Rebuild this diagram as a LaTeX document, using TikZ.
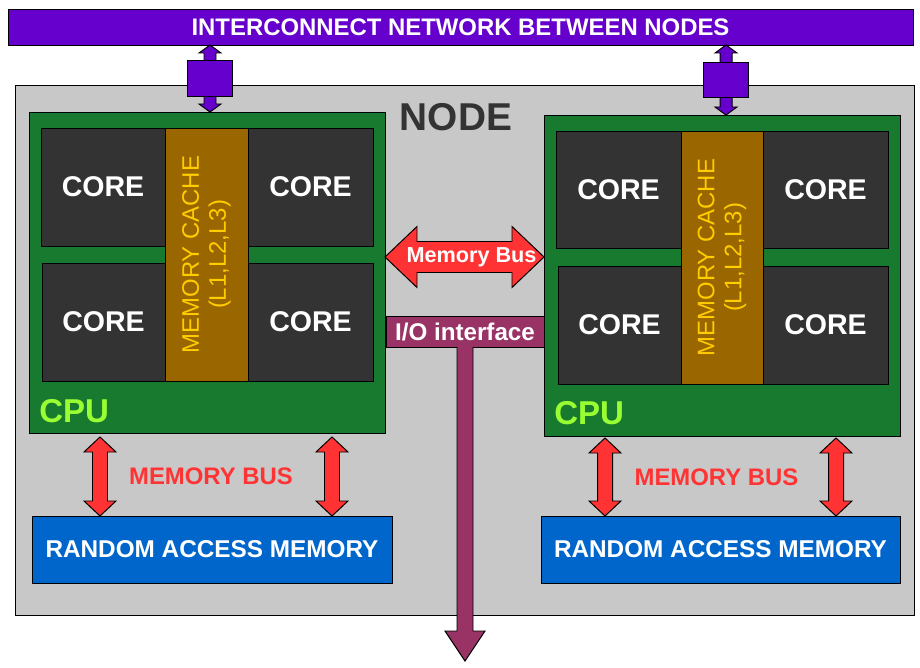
\documentclass[tikz,border=0pt]{standalone}
\usepackage{fontspec}
\setmainfont{Liberation Sans}
\usepackage{xcolor}
\usepackage{tikz}
\usetikzlibrary{positioning, fit, calc}
\definecolor{netpurple}{rgb}{0.4,0,0.8}
\definecolor{nodegray}{rgb}{0.784,0.784,0.784}
\definecolor{cpugreen}{rgb}{0.09,0.48,0.18}
\definecolor{coregray}{rgb}{0.2,0.2,0.2}
\definecolor{cachebrown}{rgb}{0.6,0.4,0}
\definecolor{cacheyellow}{rgb}{1,0.8,0}
\definecolor{cpulime}{rgb}{0.6,1,0.2}
\definecolor{busred}{rgb}{1,0.2,0.2}
\definecolor{ramblue}{rgb}{0,0.4,0.8}
\definecolor{iopurple}{rgb}{0.6,0.2,0.4}
\tikzstyle{box}=[%
      rectangle, draw=black, line width=0.7pt, inner sep=0pt, outer sep=0pt
]
\tikzstyle{netbar}=[box, fill=netpurple]
\tikzstyle{nettext}=[%
      text=white, inner sep=0pt, font=\fontsize{17}{20}\selectfont\bfseries
]
\tikzstyle{nodebox}=[box, fill=nodegray]
\tikzstyle{nodetitle}=[%
      text=coregray, inner sep=0pt, font=\fontsize{27.6}{32}\selectfont\bfseries
]
\tikzstyle{cpu}=[box, fill=cpugreen]
\tikzstyle{core}=[box, fill=coregray]
\tikzstyle{coretext}=[%
      text=white, inner sep=0pt, font=\fontsize{20.3}{24}\selectfont\bfseries
]
\tikzstyle{cache}=[box, fill=cachebrown]
\tikzstyle{cachetext}=[%
      rotate=90, align=center, text=cacheyellow, inner sep=0pt,
      font=\fontsize{17}{19.2}\selectfont
]
\tikzstyle{cpulabel}=[%
      anchor=base west, text=cpulime, inner sep=0pt, font=\fontsize{23.5}{28}\selectfont\bfseries
]
\tikzstyle{ram}=[box, fill=ramblue]
\tikzstyle{ramtext}=[%
      text=white, inner sep=0pt, font=\fontsize{17.3}{20}\selectfont\bfseries
]
\tikzstyle{port}=[draw=black, line width=0.7pt, fill=netpurple]
\tikzstyle{portbox}=[%
      box, fill=netpurple, minimum width=1.125cm, minimum height=0.875cm
]
\tikzstyle{bus}=[draw=black, line width=0.7pt, fill=busred]
\tikzstyle{buslabel}=[%
      text=white, inner sep=0pt, font=\fontsize{15.4}{18}\selectfont\bfseries
]
\tikzstyle{ramlabel}=[%
      text=busred, inner sep=0pt, font=\fontsize{17}{20}\selectfont\bfseries
]
\tikzstyle{io}=[box, fill=iopurple]
\tikzstyle{iotext}=[%
      text=white, inner sep=0pt, font=\fontsize{17.2}{20}\selectfont\bfseries
]
\tikzstyle{iostem}=[draw=black, line width=0.7pt, fill=iopurple]
% vertical double arrow: style, top tip, bottom tip, shaft half width, head half width, head length
\newcommand{\vbus}[6]{%
  \path[#1] (#2) -- ++(#5,#6) -- ++({#4-#5},0) -- ($(#3)+(#4,-#6)$) -- ++({#5-#4},0) -- (#3)
    -- ++(-#5,-#6) -- ++({#5-#4},0) -- ($(#2)+(-#4,#6)$) -- ++({#4-#5},0) -- cycle;}
% horizontal double arrow: style, left tip, right tip, shaft half width, head half width, head length
\newcommand{\hbus}[6]{%
  \path[#1] (#2) -- ++(#6,-#5) -- ++(0,{#5-#4}) -- ($(#3)+(-#6,-#4)$) -- ++(0,{#4-#5}) -- (#3)
    -- ++(-#6,#5) -- ++(0,{#4-#5}) -- ($(#2)+(#6,#4)$) -- ++(0,{#5-#4}) -- cycle;}
% single arrow going down: style, top, tip, shaft half width, head half width, head length
\newcommand{\iodrop}[6]{%
  \path[#1] ($(#2)+(-#4,0)$) -- ($(#3)+(-#4,-#6)$) -- ++({#4-#5},0) -- (#3)
    -- ++(#5,-#6) -- ++({#4-#5},0) -- ($(#2)+(#4,0)$);}

\begin{document}
\begin{tikzpicture}[x={(0.025cm,0)}, y={(0,-0.025cm)}]
  \useasboundingbox (0,0) rectangle (920,668);

  \node[netbar, fit={(8,9) (913,45)},
        label={[nettext]center:INTERCONNECT NETWORK BETWEEN NODES}] (net) {};
  \node[nodebox, fit={(15,85) (914,615)}] (nodebox) {};
  \node[nodetitle] (title) at (456,117) {NODE};

  % left cpu
  \node[cpu, fit={(29,112) (385,433)}] (lcpu) {};
  \node[core, fit={(41,128) (165,246)}, label={[coretext]center:CORE}] (lcore1) {};
  \node[core, fit={(248,128) (373,246)}, label={[coretext]center:CORE}] (lcore2) {};
  \node[core, fit={(42,263) (165,381)}, label={[coretext]center:CORE}] (lcore3) {};
  \node[core, fit={(248,263) (373,381)}, label={[coretext]center:CORE}] (lcore4) {};
  \node[cache, fit={(165,128) (248,381)}] (lcache) {};
  \node[cachetext] (lcachetext) at (lcache) {MEMORY CACHE\\(L1,L2,L3)};
  \node[cpulabel] (lcpulabel) at ($(lcpu.south west)+(10,-11)$) {CPU};

  % right cpu
  \node[cpu, fit={(544,115) (900,436)}] (rcpu) {};
  \node[core, fit={(556,131) (681,248)}, label={[coretext]center:CORE}] (rcore1) {};
  \node[core, fit={(763,131) (888,248)}, label={[coretext]center:CORE}] (rcore2) {};
  \node[core, fit={(558,266) (681,384)}, label={[coretext]center:CORE}] (rcore3) {};
  \node[core, fit={(763,266) (888,384)}, label={[coretext]center:CORE}] (rcore4) {};
  \node[cache, fit={(681,131) (763,384)}] (rcache) {};
  \node[cachetext] (rcachetext) at (rcache) {MEMORY CACHE\\(L1,L2,L3)};
  \node[cpulabel] (rcpulabel) at ($(rcpu.south west)+(10,-12)$) {CPU};

  % links to the network
  \coordinate (lnet) at ($(net.south -| lcpu.north)+(3,0)$);
  \coordinate (lin) at ($(lcpu.north)+(3,0)$);
  \vbus{port}{lnet}{lin}{6}{11}{8}
  \node[portbox] (lport) at ($(lnet)!.5!(lin)$) {};
  \coordinate (rnet) at ($(net.south -| rcpu.north)+(4,0)$);
  \coordinate (rin) at ($(rcpu.north)+(4,0)$);
  \vbus{port}{rnet}{rin}{6}{11}{8}
  \node[portbox] (rport) at ($(rnet)!.5!(rin)$) {};

  % memory bus between the cpus
  \coordinate (busrow) at (0,257);
  \hbus{bus}{lcpu.east |- busrow}{rcpu.west |- busrow}{15.5}{30.5}{32}
  \node[buslabel] (membus) at ($(lcpu.east |- busrow)!.5!(rcpu.west |- busrow)+(7,0)$) {Memory Bus};

  % ram
  \node[ram, fit={(32,516) (392,583)}, label={[ramtext]center:RANDOM ACCESS MEMORY}] (lram) {};
  \node[ram, fit={(541,516) (900,583)}, label={[ramtext]center:RANDOM ACCESS MEMORY}] (rram) {};
  \coordinate (la1) at ($(lcpu.south west)+(71,4)$);
  \coordinate (la2) at ($(lcpu.south west)+(303,4)$);
  \coordinate (ra1) at ($(rcpu.south west)+(61,2)$);
  \coordinate (ra2) at ($(rcpu.south west)+(292,2)$);
  \vbus{bus}{la1}{la1 |- lram.north}{7.5}{16}{15}
  \vbus{bus}{la2}{la2 |- lram.north}{7.5}{16}{15}
  \vbus{bus}{ra1}{ra1 |- rram.north}{7.5}{16}{15}
  \vbus{bus}{ra2}{ra2 |- rram.north}{7.5}{16}{15}
  \node[ramlabel] (lmembus) at ($(la1)!.5!(la2 |- lram.north)+(-5,0)$) {MEMORY BUS};
  \node[ramlabel] (rmembus) at ($(ra1)!.5!(ra2 |- rram.north)+(-4,0)$) {MEMORY BUS};

  % i/o
  \node[io, fit={(386,316) (544,347)}, label={[iotext]center:I/O interface}] (io) {};
  \coordinate (ioout) at ($(io.south)+(0,314)$);
  \iodrop{iostem}{io.south}{ioout}{8}{20}{30}

\end{tikzpicture}
\end{document}
